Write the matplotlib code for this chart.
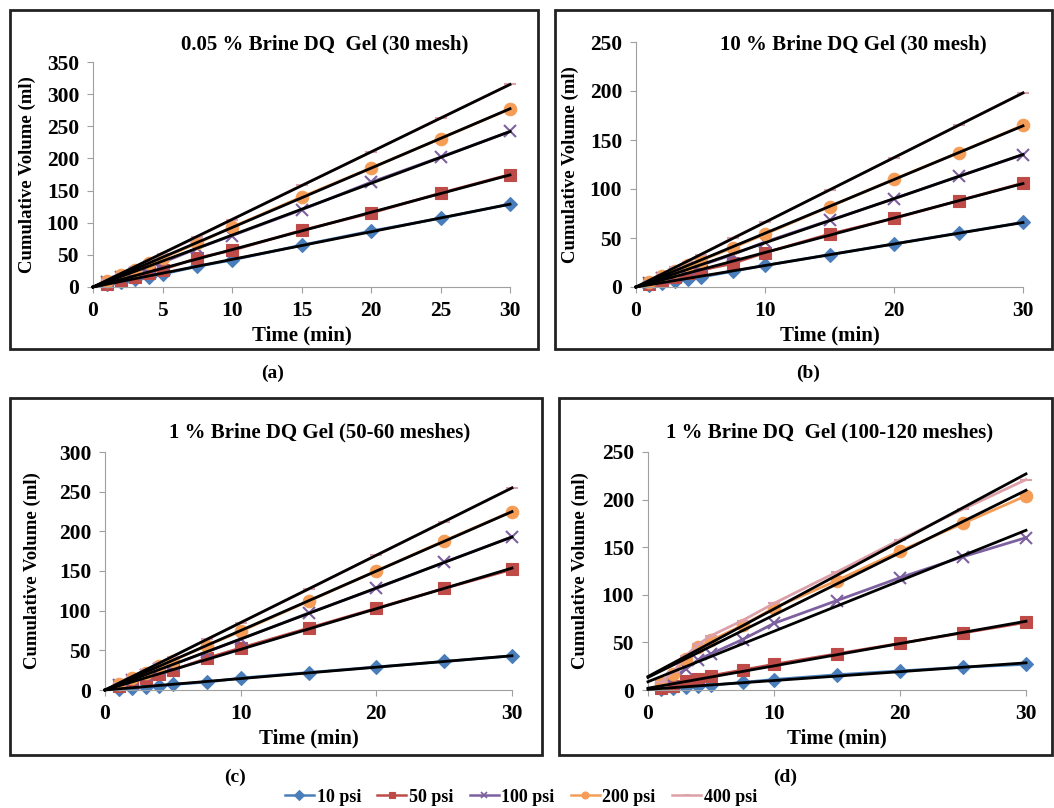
import matplotlib.pyplot as plt
from matplotlib.patches import Rectangle
from matplotlib.lines import Line2D
import numpy as np

plt.rcParams['font.family'] = ['Liberation Serif', 'DejaVu Serif']
plt.rcParams['font.weight'] = 'bold'

time = [1, 2, 3, 4, 5, 7.5, 10, 15, 20, 25, 30]
pressures = ['10 psi', '50 psi', '100 psi', '200 psi', '400 psi']

# panel (a) 0.05 % brine, 30 mesh
a_10 = [4, 8, 12, 16, 20, 32, 42, 65, 87, 107, 129]
a_50 = [5, 10, 15, 22, 27, 45, 57, 88, 115, 146, 175]
a_100 = [8, 15, 22, 30, 38, 60, 80, 120, 163, 202, 242]
a_200 = [10, 18, 27, 37, 45, 68, 93, 140, 185, 231, 277]
a_400 = [11, 21, 31, 41, 52, 78, 105, 158, 210, 263, 315]

# panel (b) 10 % brine, 30 mesh
b_10 = [2, 4, 6, 8, 10, 16, 22, 33, 44, 55, 66]
b_50 = [3.5, 7, 10, 14, 17, 24, 35, 54, 70, 88, 106]
b_100 = [4.5, 9, 13, 18, 22, 33, 46, 68, 90, 113, 135]
b_200 = [5.5, 11, 16, 22, 27, 40, 54, 82, 110, 137, 165]
b_400 = [6.5, 13, 20, 26, 33, 50, 66, 99, 132, 165, 198]

# panel (c) 1 % brine, 50-60 meshes
c_10 = [1, 2, 3.5, 5, 7, 10, 15, 22, 29, 36, 43]
c_50 = [5, 10, 15, 20, 25, 40, 53, 78, 103, 128, 152]
c_100 = [6.5, 13, 19, 26, 32, 48, 64, 97, 128, 161, 193]
c_200 = [8, 15, 22, 30, 37, 56, 74, 112, 150, 188, 225]
c_400 = [8.5, 17, 25, 34, 42, 64, 85, 127, 170, 212, 255]

# panel (d) 1 % brine, 100-120 meshes
d_10 = [1, 2, 3, 4, 5, 8, 11, 16, 20, 24, 27]
d_50 = [2, 4, 9, 12, 15, 21, 27, 38, 49, 60, 71]
d_100 = [5, 13, 22, 32, 38, 53, 70, 94, 118, 140, 160]
d_200 = [7, 17, 33, 45, 52, 68, 86, 115, 146, 175, 204]
d_400 = [8, 19, 36, 48, 57, 73, 91, 124, 158, 190, 221]

titles = ['0.05 % Brine DQ  Gel (30 mesh)', '10 % Brine DQ Gel (30 mesh)',
          '1 % Brine DQ Gel (50-60 meshes)', '1 % Brine DQ  Gel (100-120 meshes)']
tags = ['(a)', '(b)', '(c)', '(d)']
ymax = [350, 250, 300, 250]
xstep = [5, 10, 10, 10]

colors = ['#4A7EBB', '#BE4B48', '#7D60A0', '#F59D56', '#DDA0A8']
markers = ['D', 's', 'x', 'o', '_']
msizes = [7, 8, 8, 9, 9]

W, H = 1054, 808
fig = plt.figure(figsize=(W / 100, H / 100), dpi=100)

def fx(p):
    return p / W

def fy(p):
    return 1 - p / H

# axes pixel boxes: x0, x1, ytop, ybottom
ax_px = [(93, 510, 62, 287), (636, 1023, 42, 287),
         (105, 512, 452, 690), (648, 1026, 452, 690)]
box_px = [(10, 538, 10, 349), (555, 1052, 10, 349),
          (10, 542, 398, 755), (559, 1052, 398, 755)]
title_px = [(325, 44), (853, 44), (320, 432), (830, 432)]
tag_px = [(273, 373), (808, 373), (235, 777), (785, 777)]
ylab_x = [27, 570, 32, 580]

data = [[a_10, a_50, a_100, a_200, a_400],
        [b_10, b_50, b_100, b_200, b_400],
        [c_10, c_50, c_100, c_200, c_400],
        [d_10, d_50, d_100, d_200, d_400]]

t = np.array(time)
for k in range(4):
    x0, x1, yt, yb = ax_px[k]
    ax = fig.add_axes([fx(x0), fy(yb), (x1 - x0) / W, (yb - yt) / H])
    for i, ys in enumerate(data[k]):
        ax.plot(time, ys, color=colors[i], marker=markers[i], ms=msizes[i],
                mew=1.5 if markers[i] in ('x', '_') else 0.8, lw=2, clip_on=False, zorder=2)
    for i, ys in enumerate(data[k]):
        ys = np.array(ys)
        if k < 3:
            slope = np.sum(t * ys) / np.sum(t * t)
            icpt = 0.0
        else:
            slope, icpt = np.polyfit(t, ys, 1)
        xs = np.array([0, 30])
        ax.plot(xs, icpt + slope * xs, color='black', lw=2, clip_on=False, zorder=3)
    ax.set_xlim(0, 30)
    ax.set_ylim(0, ymax[k])
    ax.set_xticks(np.arange(0, 31, xstep[k]))
    ax.set_yticks(np.arange(0, ymax[k] + 1, 50))
    for s in ['top', 'right']:
        ax.spines[s].set_visible(False)
    for s in ['left', 'bottom']:
        ax.spines[s].set_color('#A0A0A0')
        ax.spines[s].set_linewidth(0.8)
    ax.tick_params(colors='#A0A0A0', labelcolor='black', labelsize=15.5, length=4,
                   width=0.8, pad=6)
    for lab in ax.get_xticklabels() + ax.get_yticklabels():
        lab.set_fontweight('bold')
    ax.set_xlabel('Time (min)', fontsize=15, fontweight='bold', labelpad=3)
    fig.text(fx(ylab_x[k]), fy((yt + yb) / 2), 'Cumulative Volume (ml)', rotation=90,
             fontsize=13.5, fontweight='bold', ha='center', va='center')
    fig.text(fx(title_px[k][0]), fy(title_px[k][1]), titles[k], fontsize=15,
             fontweight='bold', ha='center', va='center')
    fig.text(fx(tag_px[k][0]), fy(tag_px[k][1]), tags[k], fontsize=14,
             fontweight='bold', ha='center', va='center')
    bx0, bx1, byt, byb = box_px[k]
    fig.patches.append(Rectangle((fx(bx0), fy(byb)), (bx1 - bx0) / W, (byb - byt) / H,
                                 transform=fig.transFigure, fill=False,
                                 edgecolor='#222222', lw=2))

handles = [Line2D([], [], color=colors[i], marker=markers[i], ms=5, lw=1.8,
                  mew=1.2 if markers[i] in ('x', '_') else 0.8) for i in range(5)]
fig.legend(handles, pressures, loc='center', bbox_to_anchor=(fx(521), fy(797)),
           ncol=5, frameon=False, prop={'weight': 'bold', 'size': 13},
           handlelength=1.6, handletextpad=0.15, columnspacing=0.9)

fig.savefig('out.png', dpi=100)
